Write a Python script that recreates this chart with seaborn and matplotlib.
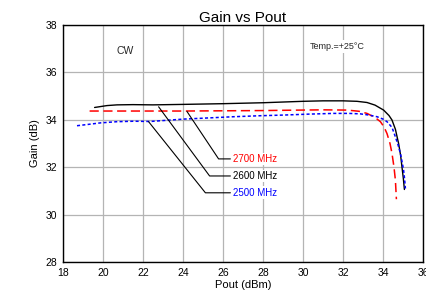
import matplotlib
matplotlib.use("Agg")
import matplotlib.pyplot as plt
import seaborn as sns
import pandas as pd

sns.set_theme(style="white")
plt.rcParams['font.family'] = ['Liberation Sans', 'DejaVu Sans']

x_2600 = [19.58, 20.2, 20.7, 21.5, 22.5, 24.0, 26.0, 28.0, 30.0, 31.0, 32.0, 32.7, 33.2, 33.6, 34.03, 34.3, 34.45, 34.62, 34.78, 34.88, 34.95, 35.02, 35.07]
g_2600 = [34.52, 34.6, 34.63, 34.64, 34.63, 34.65, 34.68, 34.72, 34.78, 34.80, 34.80, 34.78, 34.73, 34.62, 34.41, 34.18, 33.99, 33.6, 33.0, 32.5, 32.0, 31.5, 31.06]

x_2700 = [19.33, 20.5, 22.0, 24.0, 26.0, 28.0, 29.9, 31.0, 32.2, 32.8, 33.2, 33.6, 33.87, 34.05, 34.2, 34.35, 34.45, 34.55, 34.62, 34.67]
g_2700 = [34.37, 34.37, 34.37, 34.37, 34.38, 34.39, 34.41, 34.42, 34.41, 34.36, 34.27, 34.1, 33.92, 33.7, 33.42, 33.0, 32.58, 32.0, 31.45, 30.65]

x_2500 = [18.7, 19.3, 19.87, 20.7, 21.53, 22.37, 23.2, 24.03, 25.3, 26.53, 27.8, 29.03, 30.3, 31.53, 32.3, 32.87, 33.3, 33.7, 34.0, 34.2, 34.45, 34.62, 34.75, 34.87, 34.96, 35.03, 35.08, 35.12]
g_2500 = [33.75, 33.81, 33.87, 33.92, 33.94, 33.93, 33.98, 34.03, 34.08, 34.13, 34.17, 34.2, 34.24, 34.27, 34.27, 34.25, 34.2, 34.13, 34.03, 33.92, 33.68, 33.28, 32.95, 32.58, 32.2, 31.87, 31.5, 31.1]

labels = ["2700 MHz", "2600 MHz", "2500 MHz"]
label_colors = ["#ff0000", "#000000", "#0000ff"]
# leader line anchors: (curve point x, y), (elbow x, y), end x
lead_start = [(24.2, 34.35), (22.78, 34.55), (22.28, 33.92)]
lead_elbow = [(25.78, 32.35), (25.33, 31.63), (25.12, 30.92)]
lead_end_x = 26.37

xticks = [18, 20, 22, 24, 26, 28, 30, 32, 34, 36]
yticks = [28, 30, 32, 34, 36, 38]

df = pd.concat([
    pd.DataFrame({"Pout": x_2600, "Gain": g_2600, "Freq": "2600 MHz"}),
    pd.DataFrame({"Pout": x_2700, "Gain": g_2700, "Freq": "2700 MHz"}),
    pd.DataFrame({"Pout": x_2500, "Gain": g_2500, "Freq": "2500 MHz"}),
])

fig = plt.figure(figsize=(4.27, 3.05), dpi=100)
ax = fig.add_axes([63/427, 1-262/305, (423-63)/427, (262-25)/305])

styles = {"2600 MHz": ("#000000", "-", 1.0),
          "2700 MHz": ("#ff0000", (0, (6, 3)), 1.1),
          "2500 MHz": ("#0000ff", (0, (2, 1.5)), 1.1)}
for f, (c, ls, lw) in styles.items():
    sub = df[df["Freq"] == f]
    sns.lineplot(data=sub, x="Pout", y="Gain", ax=ax, color=c, linestyle=ls,
                 linewidth=lw, sort=False, estimator=None, legend=False)

for (sx, sy), (ex, ey), lab, col in zip(lead_start, lead_elbow, labels, label_colors):
    ax.plot([sx, ex, lead_end_x], [sy, ey, ey], color="#000000", lw=0.8, zorder=3)
    ax.text(lead_end_x + 0.15, ey, lab, color=col, fontsize=7, va="center", ha="left",
            bbox=dict(facecolor="white", edgecolor="none", pad=1.0), zorder=2)

ax.text(21.1, 36.92, "CW", fontsize=7.5, ha="center", va="center",
        bbox=dict(facecolor="white", edgecolor="none", pad=1.5), zorder=2)
ax.text(30.33, 37.1, "Temp.=+25°C", fontsize=6.5, ha="left", va="center",
        bbox=dict(facecolor="white", edgecolor="none", pad=1.5), zorder=2)

ax.set_xlim(18, 36)
ax.set_ylim(28, 38)
ax.set_xticks(xticks)
ax.set_yticks(yticks)
ax.tick_params(axis="both", labelsize=7.5, length=0, pad=4, colors="#000000")
ax.grid(True, color="#b4b4b4", linewidth=0.9)
ax.set_axisbelow(True)
for s in ax.spines.values():
    s.set_color("#000000")
    s.set_linewidth(1.0)
    s.set_visible(True)
ax.set_xlabel("Pout (dBm)", fontsize=8, labelpad=2, color="#000000")
ax.set_ylabel("Gain (dB)", fontsize=8, labelpad=4, color="#000000")
ax.set_title("Gain vs Pout", fontsize=11, pad=2, color="#000000")

fig.savefig("out.png", dpi=100)
